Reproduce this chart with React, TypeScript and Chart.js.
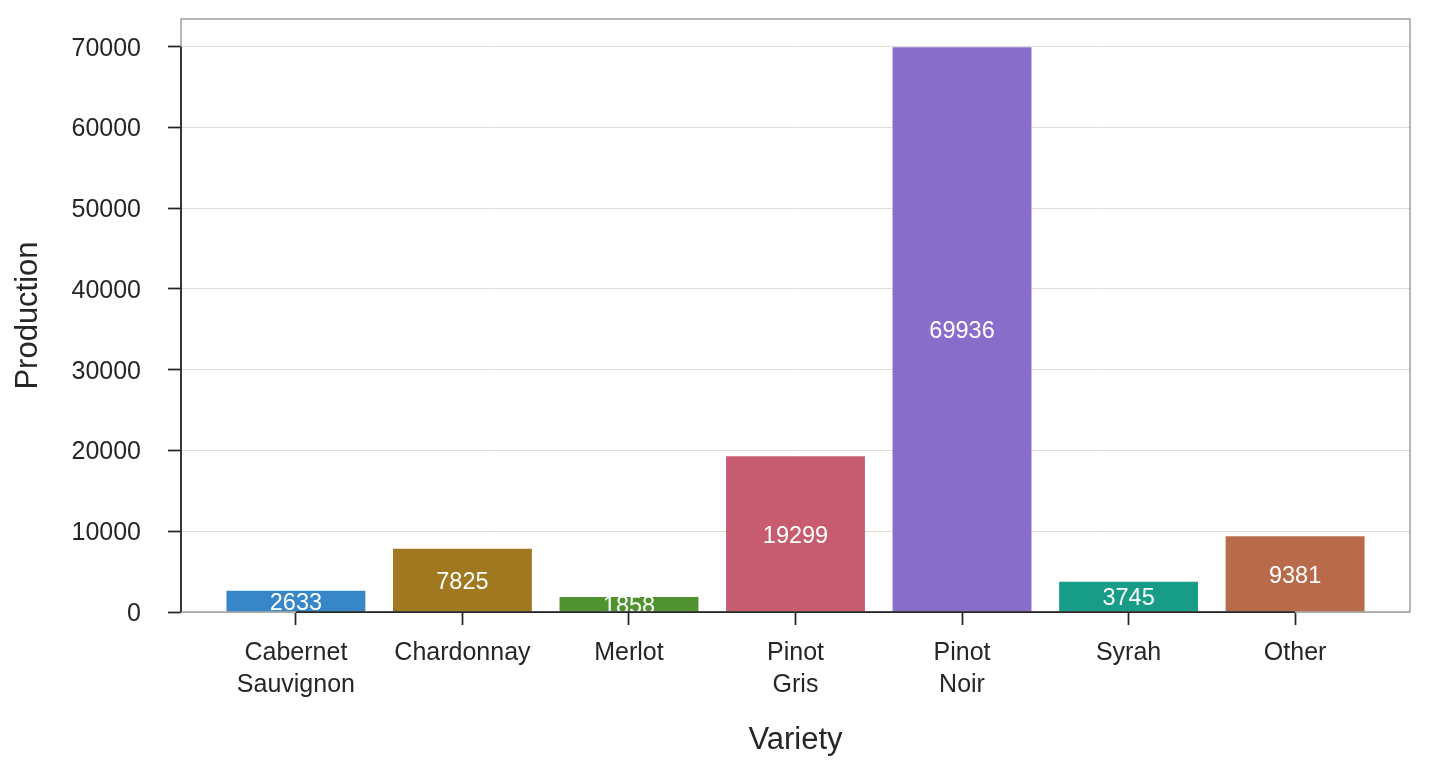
import React, { useEffect, useRef } from 'react';
import { Chart, registerables } from 'chart.js';

Chart.register(...registerables);

// ---- data ----
const varieties: (string | string[])[] = [
  ['Cabernet', 'Sauvignon'],
  'Chardonnay',
  'Merlot',
  ['Pinot', 'Gris'],
  ['Pinot', 'Noir'],
  'Syrah',
  'Other',
];
const production = [2633, 7825, 1858, 19299, 69936, 3745, 9381];
const barColors = ['#3787c8', '#a0781f', '#4f9331', '#c75c71', '#886dca', '#179c87', '#b96a4a'];
const yTicks = [0, 10000, 20000, 30000, 40000, 50000, 60000, 70000];
const yMax = 73433;
const xMin = -0.69;
const xMax = 6.69;

const FONT = '"Liberation Sans", Arial, Helvetica, sans-serif';
const TEXT = '#262626';
const GRID = '#e0ddd5';
const FRAME = '#8c8c8c';
const LABEL_SIZE = 23.5;

const barLabelPlugin = {
  id: 'barLabels',
  afterDatasetsDraw(chart: any) {
    const { ctx, chartArea: a } = chart;
    const meta = chart.getDatasetMeta(0);
    ctx.save();
    ctx.beginPath();
    ctx.rect(a.left, a.top, a.right - a.left, a.bottom - a.top);
    ctx.clip();
    ctx.fillStyle = '#ffffff';
    ctx.font = `${LABEL_SIZE}px ${FONT}`;
    ctx.textAlign = 'center';
    ctx.textBaseline = 'alphabetic';
    meta.data.forEach((bar: any, i: number) => {
      const p = bar.getProps(['x', 'y', 'base'], true);
      ctx.fillText(String(production[i]), p.x, (p.y + p.base) / 2 + 0.37 * LABEL_SIZE);
    });
    ctx.restore();
  },
};

const framePlugin = {
  id: 'frame',
  afterDraw(chart: any) {
    const { ctx, chartArea: a, scales } = chart;
    const xs = scales.x;
    const ys = scales.y;
    ctx.save();
    ctx.strokeStyle = FRAME;
    ctx.lineWidth = 1.25;
    ctx.strokeRect(a.left, a.top, a.right - a.left, a.bottom - a.top);
    ctx.strokeStyle = TEXT;
    ctx.lineWidth = 1.75;
    ctx.lineCap = 'butt';
    ctx.beginPath();
    ctx.moveTo(a.left, ys.getPixelForValue(yTicks[yTicks.length - 1]));
    ctx.lineTo(a.left, ys.getPixelForValue(yTicks[0]));
    ctx.moveTo(xs.getPixelForValue(0), a.bottom);
    ctx.lineTo(xs.getPixelForValue(production.length - 1), a.bottom);
    ctx.stroke();
    ctx.restore();
  },
};

export default function App() {
  const ref = useRef<HTMLCanvasElement | null>(null);

  useEffect(() => {
    if (!ref.current) return;
    const chart = new Chart(ref.current, {
      type: 'bar',
      data: {
        datasets: [
          {
            data: production.map((v, i) => ({ x: i, y: v })),
            backgroundColor: barColors,
            borderWidth: 0,
            barPercentage: 0.834,
            categoryPercentage: 1,
          },
        ],
      },
      options: {
        animation: false,
        responsive: false,
        layout: { padding: { top: 19, right: 30, left: 0, bottom: 0 } },
        plugins: { legend: { display: false }, tooltip: { enabled: false } },
        scales: {
          x: {
            type: 'linear',
            min: xMin,
            max: xMax,
            bounds: 'data',
            offset: false,
            border: { display: false },
            grid: {
              offset: false,
              drawOnChartArea: false,
              drawTicks: true,
              tickLength: 13,
              tickColor: TEXT,
              tickWidth: 1.75,
            },
            afterBuildTicks: (scale: any) => {
              scale.ticks = production.map((_, i) => ({ value: i }));
            },
            afterFit: (scale: any) => {
              scale.height = 156;
              scale.paddingLeft = 0;
              scale.paddingRight = 0;
              scale.paddingTop = 0;
              scale.paddingBottom = 0;
            },
            ticks: {
              autoSkip: false,
              maxRotation: 0,
              minRotation: 0,
              padding: 12,
              color: TEXT,
              font: { family: FONT, size: 25, lineHeight: 1.28 },
              callback: (_v: any, index: number) => varieties[index] as any,
            },
            title: {
              display: true,
              text: 'Variety',
              color: TEXT,
              font: { family: FONT, size: 31 },
              padding: { top: 0, bottom: 9 },
            },
          },
          y: {
            type: 'linear',
            min: 0,
            max: yMax,
            bounds: 'data',
            border: { display: false },
            grid: {
              color: GRID,
              lineWidth: 1,
              drawTicks: true,
              tickLength: 13,
              tickColor: TEXT,
              tickWidth: 1.75,
            },
            afterBuildTicks: (scale: any) => {
              scale.ticks = yTicks.map((v) => ({ value: v }));
            },
            afterFit: (scale: any) => {
              scale.width = 181;
              scale.paddingLeft = 0;
              scale.paddingRight = 0;
              scale.paddingTop = 0;
              scale.paddingBottom = 0;
            },
            ticks: {
              padding: 27,
              labelOffset: 2,
              color: TEXT,
              font: { family: FONT, size: 25 },
              callback: (v: any) => String(v),
            },
            title: {
              display: true,
              text: 'Production',
              color: TEXT,
              font: { family: FONT, size: 31 },
              padding: { top: 10, bottom: 0 },
            },
          },
        },
      },
      plugins: [barLabelPlugin, framePlugin],
    } as any);
    return () => chart.destroy();
  }, []);

  return (
    <div style={{ position: 'fixed', left: 0, top: 0, width: 1440, height: 768, background: '#ffffff' }}>
      <canvas ref={ref} width={1440} height={768} style={{ display: 'block' }} />
    </div>
  );
}
